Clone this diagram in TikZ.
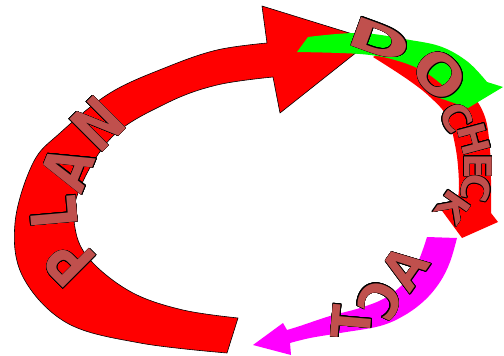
\documentclass[tikz,border=0pt]{standalone}
\usepackage{fontspec}
\setmainfont{DejaVu Sans}
\usepackage{contour}
\contourlength{0.5pt}
\usetikzlibrary{positioning}
\definecolor{CyRed}{HTML}{FF0000}
\definecolor{CyGreen}{HTML}{00FF00}
\definecolor{CyMagenta}{HTML}{FF00FF}
\definecolor{CyLetter}{HTML}{C0504D}
\newcommand\arcletter[1]{\contour{black}{#1}}
\tikzset{
  band/.style={fill=CyRed,draw=none},
  bandplan/.style={band,draw=black,line width=0.6pt,line join=round},
  bandgreen/.style={band,fill=CyGreen},
  bandmagenta/.style={band,fill=CyMagenta},
  letter/.style={text=CyLetter,inner sep=0pt,font=\fontsize{54}{54}\selectfont\bfseries},
  bigletter/.style={letter,font=\fontsize{64}{64}\selectfont\bfseries},
  smallletter/.style={letter,font=\fontsize{38}{38}\selectfont\bfseries},
}
\begin{document}
\begin{tikzpicture}[x=1pt,y=-1pt]
  \useasboundingbox (0,0) rectangle (504,356);

  % plan: big arrow round the left side
  \draw[bandplan] plot[smooth,tension=0.6] coordinates {(238,318) (183,310) (133,293) (93,263)
      (76,233) (78,193) (112,137) (167,103) (217,85) (273,77)}
    -- (280,113) -- (372,40) -- (262,6) -- (267,43)
    -- plot[smooth,tension=0.6] coordinates {(267,43) (217,50) (167,67) (110,93) (60,133)
      (33,163) (15,223) (23,277) (67,323) (140,343) (227,353)}
    -- cycle;

  % check
  \fill[band] plot[smooth,tension=0.6] coordinates {(373,57) (407,79) (430,97) (447,117)
      (456,150) (459,185) (457,203)}
    -- (440,208) -- (462,238) -- (498,222) -- (491,213)
    -- plot[smooth,tension=0.6] coordinates {(491,213) (491,180) (490,150) (485,117) (470,92)
      (445,72) (412,56) (385,50)}
    -- cycle;

  % do
  \fill[bandgreen] plot[smooth,tension=0.6] coordinates {(308,37) (360,33) (410,40) (442,47)
      (468,62) (487,82)}
    -- (503,87) -- (468,108) -- (437,97) -- (448,90)
    -- plot[smooth,tension=0.6] coordinates {(448,90) (425,72) (395,60) (360,54) (297,52)}
    -- cycle;

  % act
  \fill[bandmagenta] (427,237)
    -- plot[smooth,tension=0.6] coordinates {(457,238) (450,262) (440,282) (425,300) (405,315)
      (380,326) (340,333) (310,338) (290,343)}
    -- (291,355) -- (253,345) -- (283,323)
    -- plot[smooth,tension=0.6] coordinates {(287,330) (300,326) (330,316) (360,308) (385,298)
      (405,282) (418,262) (427,237)}
    -- cycle;

  % letters
  \node[bigletter,rotate=135,xscale=0.8] (plan-p) at (70,262) {\arcletter{P}};
  \node[bigletter,rotate=95,xscale=0.8] (plan-l) at (54,212) {\arcletter{L}};
  \node[bigletter,rotate=68,xscale=0.8] (plan-a) at (68,168) {\arcletter{A}};
  \node[bigletter,rotate=45,xscale=0.8] (plan-n) at (98,124) {\arcletter{N}};

  \node[bigletter,rotate=-20,xscale=1.2,yscale=0.65] (do-d) at (380,40) {\arcletter{D}};
  \node[bigletter,rotate=-45,xscale=0.95,yscale=0.85] (do-o) at (440,75) {\arcletter{O}};

  \node[smallletter,rotate=-60] (check-c) at (456,118) {\arcletter{C}};
  \node[smallletter,rotate=-75] (check-h) at (474,139) {\arcletter{H}};
  \node[smallletter,rotate=-90] (check-e) at (478,166) {\arcletter{E}};
  \node[smallletter,rotate=-102] (check-c2) at (476,188) {\arcletter{C}};
  \node[smallletter,rotate=-125] (check-k) at (453,207) {\arcletter{K}};

  \node[letter,rotate=55,xscale=-0.9] (act-a) at (405,268) {\arcletter{A}};
  \node[letter,rotate=65,xscale=-0.9] (act-c) at (380,300) {\arcletter{C}};
  \node[letter,rotate=85,xscale=-0.9] (act-t) at (352,322) {\arcletter{T}};
\end{tikzpicture}
\end{document}
